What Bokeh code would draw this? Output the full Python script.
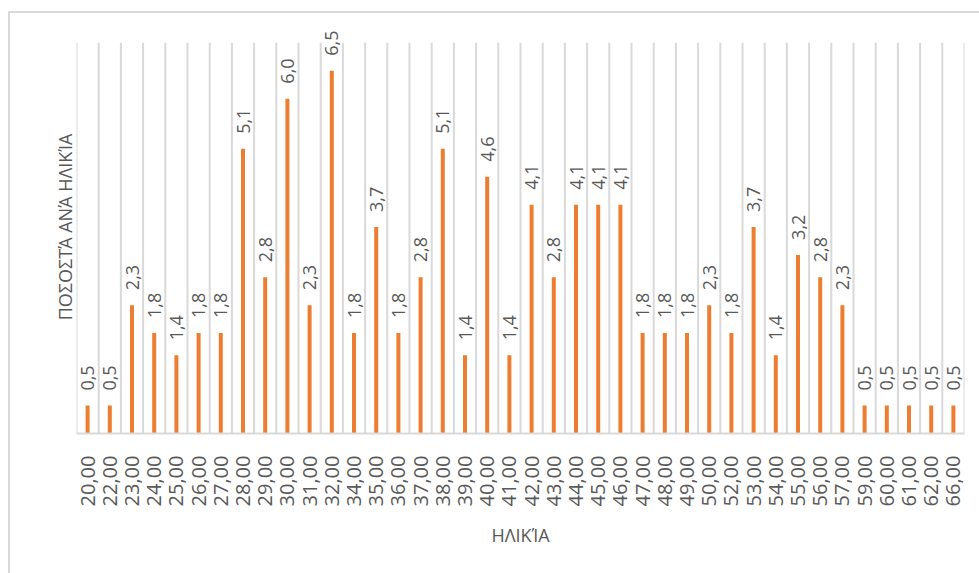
import math
from bokeh.plotting import figure
from bokeh.models import ColumnDataSource, FixedTicker, Range1d
from bokeh.core.properties import value
from bokeh.embed import file_html
from bokeh.resources import INLINE

# Ages (categories) and percentage of respondents per age
ages = [20, 22, 23, 24, 25, 26, 27, 28, 29, 30, 31, 32, 34, 35, 36, 37, 38, 39, 40, 41,
        42, 43, 44, 45, 46, 47, 48, 49, 50, 52, 53, 54, 55, 56, 57, 59, 60, 61, 62, 66]
percent = [0.5, 0.5, 2.3, 1.8, 1.4, 1.8, 1.8, 5.1, 2.8, 6.0, 2.3, 6.5, 1.8, 3.7, 1.8, 2.8,
           5.1, 1.4, 4.6, 1.4, 4.1, 2.8, 4.1, 4.1, 4.1, 1.8, 1.8, 1.8, 2.3, 1.8, 3.7, 1.4,
           3.2, 2.8, 2.3, 0.5, 0.5, 0.5, 0.5, 0.5]
age_labels = [f"{a},00" for a in ages]
value_labels = [f"{v:.1f}".replace(".", ",") for v in percent]
axis_max = 7

FONT = "Open Sans"
TEXT_COLOR = "#595959"
GRID_COLOR = "#d9d9d9"
BAR_COLOR = "#ed7d31"

n = len(ages)
centers = [i + 0.5 for i in range(n)]
boundaries = list(range(n + 1))

source = ColumnDataSource(dict(x=centers, top=percent, label=value_labels))
grid_src = ColumnDataSource(dict(x=boundaries, y0=[0] * len(boundaries),
                                 y1=[axis_max] * len(boundaries)))

# a little headroom above the value axis so the tallest label is not cut off
p = figure(
    width=971, height=562,
    x_range=Range1d(0, n), y_range=Range1d(0, 7.4),
    output_backend="svg", toolbar_location=None,
    min_border_left=66, min_border_top=7, min_border_right=17, min_border_bottom=142,
)
p.margin = (11, 0, 0, 8)
p.styles = {"border-top": f"2px solid {GRID_COLOR}", "border-left": f"2px solid {GRID_COLOR}"}
p.outline_line_color = None
p.background_fill_color = "white"
p.border_fill_color = "white"
p.xgrid.grid_line_color = None
p.ygrid.grid_line_color = None

# vertical separators between the age categories
p.segment(x0="x", y0="y0", x1="x", y1="y1", source=grid_src,
          line_color=GRID_COLOR, line_width=2)

p.vbar(x="x", top="top", bottom=0, width=0.18, source=source,
       fill_color=BAR_COLOR, line_color=None)

p.text(x="x", y="top", text="label", source=source, angle=math.pi / 2,
       y_offset=-15, text_align="left", text_baseline="middle",
       text_font=value(FONT), text_font_size="18px", text_color=TEXT_COLOR)

# x axis: labels at category centres
xa = p.xaxis[0]
xa.ticker = FixedTicker(ticks=centers)
xa.major_label_overrides = {c: lab for c, lab in zip(centers, age_labels)}
xa.major_label_orientation = math.pi / 2
xa.major_label_text_font = FONT
xa.major_label_text_font_size = "20px"
xa.major_label_text_color = TEXT_COLOR
xa.major_label_standoff = 16
xa.major_tick_line_color = None
xa.minor_tick_line_color = None
xa.axis_line_color = GRID_COLOR
xa.axis_line_width = 2
xa.axis_label = "ΗΛΙΚΊΑ"
xa.axis_label_text_font = FONT
xa.axis_label_text_font_size = "18px"
xa.axis_label_text_font_style = "normal"
xa.axis_label_text_color = TEXT_COLOR
xa.axis_label_standoff = 14

ya = p.yaxis[0]
ya.ticker = FixedTicker(ticks=[])
ya.major_tick_line_color = None
ya.minor_tick_line_color = None
ya.axis_line_color = None
ya.axis_label = "ΠΟΣΟΣΤΆ ΑΝΆ ΗΛΙΚΊΑ"
ya.axis_label_text_font = FONT
ya.axis_label_text_font_size = "18px"
ya.axis_label_text_font_style = "normal"
ya.axis_label_text_color = TEXT_COLOR
ya.axis_label_standoff = 0

open("out.html", "w").write(file_html(p, INLINE))
